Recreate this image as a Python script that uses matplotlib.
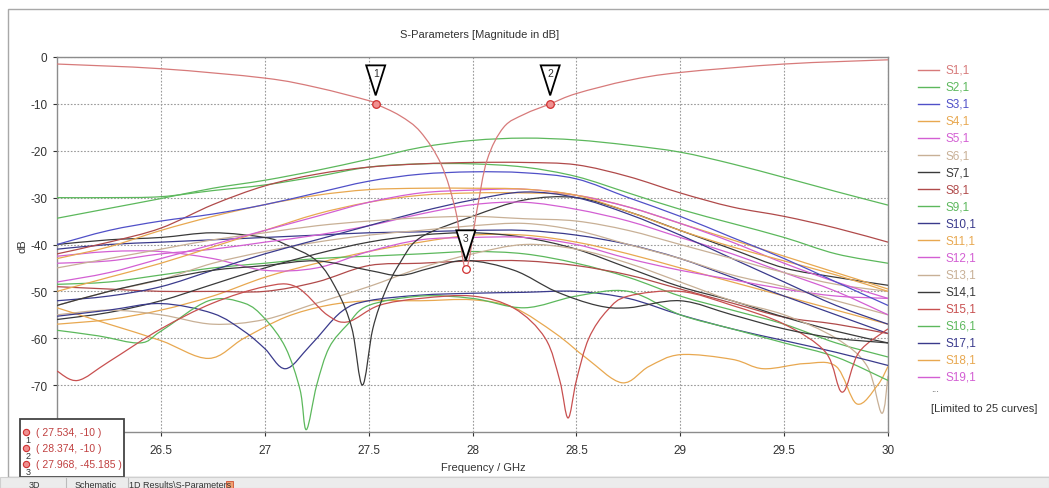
import numpy as np
import matplotlib
matplotlib.use('Agg')
import matplotlib.pyplot as plt
from matplotlib.path import Path
from matplotlib.patches import PathPatch, Polygon, Rectangle
from matplotlib.lines import Line2D
import matplotlib.transforms as mtransforms

plt.rcParams['font.family'] = ['Liberation Sans', 'DejaVu Sans']
plt.rcParams['axes.unicode_minus'] = False

# common frequency grid (GHz)
freq = [26.0, 26.25, 26.5, 26.75, 27.0, 27.25, 27.5, 27.75, 28.0,
        28.25, 28.5, 28.75, 29.0, 29.25, 29.5, 29.75, 30.0]

# curves (dB)
s1_f = [26.0, 26.5, 27.0, 27.25, 27.5, 27.534, 27.65, 27.75, 27.85, 27.92, 27.968,
        28.02, 28.07, 28.15, 28.25, 28.374, 28.5, 28.75, 29.0, 29.5, 30.0]
s1_db = [-1.5, -2.5, -4.5, -6.5, -9.3, -10.0, -12.5, -16.0, -23.0, -33.0, -45.2,
         -33.0, -22.0, -15.0, -12.2, -10.0, -7.8, -5.0, -3.3, -1.5, -0.6]
s2_db = [-34.4, -32.3, -30.2, -28.0, -26.3, -24.2, -21.8, -19.3, -17.8,
         -17.3, -17.7, -18.8, -20.3, -22.8, -25.7, -28.7, -31.6]
s3_db = [-40.0, -37.0, -35.0, -33.5, -31.5, -29.0, -26.5, -25.0, -24.5,
         -24.7, -26.0, -30.0, -34.0, -38.5, -43.0, -48.0, -53.0]
s4_db = [-43.0, -40.5, -37.0, -34.0, -31.5, -29.5, -28.3, -28.0, -28.0,
         -28.2, -29.5, -33.0, -37.0, -40.5, -43.5, -46.5, -50.0]
s5_db = [-48.0, -46.0, -43.0, -40.0, -37.0, -34.0, -31.0, -29.0, -28.4,
         -28.2, -29.5, -32.0, -35.5, -39.5, -44.0, -48.0, -51.5]
s6_db = [-45.0, -43.0, -41.0, -39.0, -37.5, -36.0, -35.0, -34.3, -34.0,
         -34.5, -35.0, -37.0, -40.0, -43.0, -46.0, -48.5, -50.0]
s7_f = [26.0, 26.25, 26.5, 26.75, 27.0, 27.25, 27.5, 27.65, 27.8, 27.97,
        28.2, 28.4, 28.6, 28.75, 29.0, 29.25, 29.5, 29.75, 30.0]
s7_db = [-53.0, -50.0, -47.5, -45.5, -44.5, -43.5, -45.5, -46.6, -45.0, -43.4,
         -45.5, -50.0, -53.0, -53.5, -52.0, -55.0, -58.0, -60.0, -61.0]
s8_db = [-42.0, -39.5, -36.5, -31.5, -27.5, -25.0, -23.5, -22.8, -22.5,
         -22.5, -23.0, -25.5, -29.0, -32.0, -34.0, -36.5, -39.5]
s9_db = [-30.0, -30.0, -29.8, -28.5, -27.3, -25.5, -23.5, -22.8, -22.8,
         -23.5, -25.5, -29.0, -32.5, -35.5, -38.5, -42.0, -44.0]
s10_db = [-52.0, -51.0, -49.0, -45.5, -42.0, -39.0, -36.0, -33.0, -30.5,
          -28.8, -30.0, -33.5, -38.0, -43.0, -48.0, -53.0, -57.0]
s11_db = [-50.0, -47.0, -44.0, -40.5, -37.0, -33.5, -31.0, -29.5, -29.0,
          -29.0, -29.5, -32.0, -35.5, -39.0, -42.5, -46.0, -49.5]
s12_db = [-44.0, -43.5, -42.0, -41.0, -39.5, -38.0, -36.0, -33.5, -31.5,
          -31.0, -32.5, -35.0, -38.5, -42.0, -46.0, -50.0, -55.0]
s13_db = [-53.0, -50.0, -47.5, -44.0, -41.5, -39.5, -38.0, -37.0, -36.0,
          -35.5, -37.0, -40.0, -43.0, -46.5, -49.0, -52.0, -55.0]
s14_f = [26.0, 26.25, 26.5, 26.75, 27.0, 27.1, 27.25, 27.35, 27.42, 27.47, 27.52,
         27.58, 27.65, 27.75, 28.0, 28.25, 28.5, 28.75, 29.0, 29.25, 29.5, 29.75, 30.0]
s14_db = [-40.0, -39.0, -38.5, -37.5, -38.5, -40.0, -43.5, -50.0, -58.0, -70.0, -58.0,
          -50.0, -44.0, -38.5, -34.0, -30.5, -30.0, -33.0, -37.0, -41.0, -45.0, -47.0, -48.7]
s15_f = [26.0, 26.1, 26.25, 26.5, 26.75, 27.0, 27.15, 27.3, 27.4, 27.55, 27.75, 28.0,
         28.2, 28.35, 28.42, 28.46, 28.5, 28.56, 28.65, 28.75, 29.0, 29.25, 29.5,
         29.7, 29.78, 29.86, 30.0]
s15_db = [-67.0, -69.0, -65.0, -58.0, -52.5, -49.0, -49.0, -55.0, -56.5, -53.0, -51.5, -51.0,
          -53.6, -60.0, -69.0, -77.0, -69.0, -60.0, -54.0, -51.0, -50.0, -53.0, -57.0,
          -63.0, -71.5, -63.0, -58.0]
s16_f = [26.0, 26.2, 26.4, 26.5, 26.73, 26.9, 27.0, 27.1, 27.17, 27.2, 27.25, 27.31,
         27.4, 27.5, 27.75, 28.0, 28.25, 28.5, 28.75, 29.0, 29.25, 29.5, 29.75, 30.0]
s16_db = [-58.3, -59.5, -61.0, -58.5, -52.0, -52.5, -55.8, -62.0, -71.0, -79.5, -70.0, -62.0,
          -57.0, -53.0, -51.0, -51.5, -53.5, -51.0, -50.0, -55.0, -58.0, -61.0, -64.0, -69.0]
s17_f = [26.0, 26.25, 26.5, 26.75, 26.9, 27.0, 27.1, 27.22, 27.37, 27.5, 27.75,
         28.0, 28.25, 28.5, 28.75, 29.0, 29.25, 29.5, 29.75, 30.0]
s17_db = [-55.3, -54.0, -52.6, -54.7, -58.5, -62.2, -66.5, -61.5, -54.3, -52.0, -50.8,
          -50.4, -50.2, -50.0, -51.5, -55.0, -58.0, -60.5, -63.0, -65.8]
s18_f = [26.0, 26.25, 26.5, 26.73, 26.9, 27.1, 27.3, 27.5, 27.75, 28.0, 28.2, 28.4,
         28.55, 28.72, 28.85, 29.0, 29.25, 29.4, 29.6, 29.75, 29.85, 29.95, 30.0]
s18_db = [-53.5, -57.0, -60.5, -64.3, -60.0, -55.5, -53.0, -52.0, -52.0, -51.8, -53.5, -59.0,
          -64.3, -69.5, -66.0, -63.5, -64.5, -66.5, -65.4, -66.0, -74.0, -70.0, -66.0]
s19_db = [-42.5, -41.5, -41.5, -43.0, -45.5, -45.0, -41.5, -39.0, -38.5,
          -38.5, -40.0, -43.0, -45.5, -47.5, -49.5, -51.0, -51.5]
s20_f = [26.0, 26.25, 26.5, 26.75, 27.0, 27.25, 27.5, 27.75, 28.0, 28.25, 28.5,
         28.75, 29.0, 29.25, 29.5, 29.75, 29.9, 29.97, 30.0]
s20_db = [-55.0, -54.0, -55.0, -57.0, -56.0, -52.5, -49.0, -45.0, -42.0, -40.0, -41.0,
          -44.0, -48.0, -52.0, -55.0, -60.0, -66.0, -76.0, -68.0]
s21_db = [-56.0, -54.5, -52.0, -48.5, -45.0, -42.0, -39.5, -38.0, -37.5,
          -38.5, -41.0, -45.0, -49.0, -52.0, -55.5, -58.5, -61.0]
s22_db = [-49.0, -49.5, -50.0, -50.0, -50.0, -48.0, -44.5, -44.0, -43.5,
          -43.5, -44.5, -46.5, -49.5, -52.5, -55.5, -57.0, -59.0]
s23_db = [-48.5, -48.0, -46.5, -45.0, -44.0, -43.0, -42.5, -42.0, -41.5,
          -42.0, -44.0, -47.0, -51.0, -54.0, -57.0, -61.0, -64.0]
s24_db = [-41.0, -40.0, -39.5, -39.0, -38.5, -38.0, -37.5, -37.3, -37.0,
          -37.0, -38.0, -40.0, -43.0, -47.0, -51.0, -55.0, -59.0]
s25_db = [-57.0, -56.0, -54.0, -51.0, -47.0, -44.0, -41.5, -39.5, -38.0,
          -38.0, -39.5, -42.0, -45.0, -48.0, -51.0, -54.0, -57.0]

# markers
mk_f = [27.534, 28.374, 27.968]
mk_db = [-10.0, -10.0, -45.185]
mk_text = ['( 27.534, -10 )', '( 28.374, -10 )', '( 27.968, -45.185 )']

rose, green, blue, orange = '#d77a7a', '#5cb85c', '#5050c8', '#e8a850'
magenta, tan, black, darkred = '#d35fd3', '#c8b096', '#3a3a3a', '#b04a4a'
navy, red = '#3a3a8c', '#c85050'

curves = [
    ('S1,1', s1_f, s1_db, rose), ('S2,1', freq, s2_db, green),
    ('S3,1', freq, s3_db, blue), ('S4,1', freq, s4_db, orange),
    ('S5,1', freq, s5_db, magenta), ('S6,1', freq, s6_db, tan),
    ('S7,1', s7_f, s7_db, black), ('S8,1', freq, s8_db, darkred),
    ('S9,1', freq, s9_db, green), ('S10,1', freq, s10_db, navy),
    ('S11,1', freq, s11_db, orange), ('S12,1', freq, s12_db, magenta),
    ('S13,1', freq, s13_db, tan), ('S14,1', s14_f, s14_db, black),
    ('S15,1', s15_f, s15_db, red), ('S16,1', s16_f, s16_db, green),
    ('S17,1', s17_f, s17_db, navy), ('S18,1', s18_f, s18_db, orange),
    ('S19,1', freq, s19_db, magenta), ('S20,1', s20_f, s20_db, tan),
    ('S21,1', freq, s21_db, black), ('S22,1', freq, s22_db, darkred),
    ('S23,1', freq, s23_db, green), ('S24,1', freq, s24_db, navy),
    ('S25,1', freq, s25_db, orange),
]


def smooth_path(f, v):
    # Catmull-Rom through the read points, drawn as Bezier segments
    p = np.column_stack([f, v])
    pp = np.vstack([p[0], p, p[-1]])
    verts = [p[0]]
    codes = [Path.MOVETO]
    for i in range(len(p) - 1):
        a, b, c, d = pp[i], pp[i + 1], pp[i + 2], pp[i + 3]
        verts += [b + (c - a) / 6, c - (d - b) / 6, c]
        codes += [Path.CURVE4] * 3
    return Path(verts, codes)


W, H = 1049, 489
fig = plt.figure(figsize=(W / 100, H / 100), dpi=100)
fig.patch.set_facecolor('white')

def fx(px):
    return px / W

def fy(py):
    return 1 - py / H

# window frame
fig.add_artist(Rectangle((fx(8), fy(478)), fx(1060), 468 / H, transform=fig.transFigure,
                         fill=False, ec='#a8a8a8', lw=1.0))

ax = fig.add_axes([fx(57), fy(433), fx(888 - 57), (433 - 58) / H])
ax.set_xlim(26, 30)
ax.set_ylim(-80, 0)
ax.set_xticks([26.5, 27, 27.5, 28, 28.5, 29, 29.5, 30])
ax.set_xticklabels(['26.5', '27', '27.5', '28', '28.5', '29', '29.5', '30'])
ax.set_yticks([0, -10, -20, -30, -40, -50, -60, -70])
ax.set_yticklabels(['0', '-10', '-20', '-30', '-40', '-50', '-60', '-70'])
ax.tick_params(labelsize=8.5, colors='#333333', length=3, width=0.8)
ax.tick_params(axis='x', pad=6)
ax.tick_params(axis='y', pad=4)
for sp in ax.spines.values():
    sp.set_color('#8c8c8c')
    sp.set_linewidth(1.0)
ax.grid(True, linestyle=(0, (1.5, 1.5)), color='#9a9a9a', linewidth=0.8)
ax.set_axisbelow(True)

for label, f, v, col in curves[::-1]:
    ax.add_patch(PathPatch(smooth_path(f, v), fill=False, edgecolor=col, lw=0.9,
                           zorder=3 if label != 'S1,1' else 4))

# markers: triangles above the points
for i, (x, y) in enumerate(zip(mk_f, mk_db)):
    trans = fig.dpi_scale_trans + mtransforms.ScaledTranslation(x, y, ax.transData)
    ax.add_patch(Polygon([(-0.095, 0.385), (0.095, 0.385), (0, 0.085)], closed=True,
                         transform=trans, fc='white', ec='black', lw=1.3, zorder=7,
                         clip_on=False))
    ax.text(0, 0.31, str(i + 1), transform=trans, ha='center', va='center',
            fontsize=7.5, color='#333333', zorder=8)
    ax.plot(x, y, 'o', ms=5.5, mfc='#f09090' if i < 2 else 'white', mec='#d03030',
            mew=0.9, zorder=8)

fig.text(fx(480), fy(35), 'S-Parameters [Magnitude in dB]', ha='center', va='center',
         fontsize=8, color='#333333')
fig.text(fx(483), fy(468), 'Frequency / GHz', ha='center', va='center',
         fontsize=8, color='#333333')
fig.text(fx(22), fy(246), 'dB', ha='center', va='center', rotation=90,
         fontsize=8, color='#333333')

# legend
for i, (label, f, v, col) in enumerate(curves[:19]):
    yy = fy(70.7 + i * 17.07)
    fig.add_artist(Line2D([fx(918), fx(939)], [yy, yy], transform=fig.transFigure,
                          color=col, lw=1.0))
    fig.text(fx(945), yy, label, ha='left', va='center', fontsize=8.5, color=col)
fig.text(fx(931), fy(389), '...', ha='left', va='center', fontsize=7, color='#555555')
fig.text(fx(931), fy(409), '[Limited to 25 curves]', ha='left', va='center',
         fontsize=8, color='#333333')

# marker readout box
fig.add_artist(Rectangle((fx(20), fy(478)), fx(104), 58 / H, transform=fig.transFigure,
                         fc='white', ec='#444444', lw=1.3, zorder=10))
for i, t in enumerate(mk_text):
    yy = 433 + i * 16
    fig.add_artist(Line2D([fx(26)], [fy(yy)], transform=fig.transFigure, marker='o',
                          ms=4.5, mfc='#f09090', mec='#d03030', mew=0.8, zorder=11))
    fig.text(fx(28), fy(yy + 8), str(i + 1), ha='center', va='center', fontsize=6.5,
             color='#333333', zorder=11)
    fig.text(fx(36), fy(yy), t, ha='left', va='center', fontsize=7.5, color='#c04040',
             zorder=11)

# tab strip at the bottom
fig.add_artist(Rectangle((0, 0), 1, 11 / H, transform=fig.transFigure,
                         fc='#ececec', ec='#cfcfcf', lw=0.8, zorder=12))
for px, t in [(34, '3D'), (96, 'Schematic'), (180, '1D Results\\S-Parameters')]:
    fig.text(fx(px), fy(486), t, ha='center', va='center', fontsize=6.5,
             color='#333333', zorder=13)
fig.add_artist(Rectangle((fx(226), fy(489)), fx(7), 7 / H, transform=fig.transFigure,
                         fc='#f0a070', ec='#d05030', lw=0.6, zorder=13))
fig.add_artist(Line2D([fx(66), fx(66)], [0, 10 / H], transform=fig.transFigure,
                      color='#bbbbbb', lw=0.8, zorder=13))
fig.add_artist(Line2D([fx(128), fx(128)], [0, 10 / H], transform=fig.transFigure,
                      color='#bbbbbb', lw=0.8, zorder=13))

fig.savefig('out.png', dpi=100)
